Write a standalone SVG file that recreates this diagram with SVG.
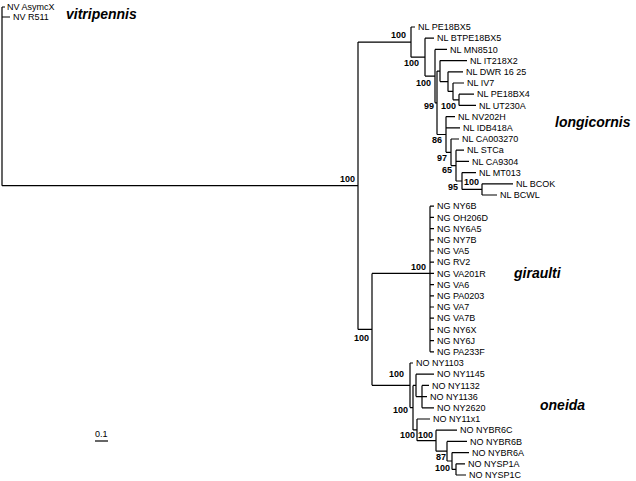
<svg xmlns="http://www.w3.org/2000/svg" width="636" height="481" viewBox="0 0 636 481">
<style>
.t{font-family:"Liberation Sans",Arial,sans-serif;font-size:9px;fill:#000}
.b{font-family:"Liberation Sans",Arial,sans-serif;font-size:9px;font-weight:bold;fill:#000;text-anchor:end}
.c{font-family:"Liberation Sans",Arial,sans-serif;font-size:14px;font-weight:bold;font-style:italic;fill:#000}
.e{fill:none;stroke:#000;stroke-width:1.2}
</style>
<rect width="636" height="481" fill="#fff"/>
<g id="connectors">
<path class="e" d="M2,7V185.7M2,7H5M2,17H10M2,185.7H358M358,42.1V329.4"/>
<path class="e" d="M358,42.1H411M411,27V57.2M411,27H415M411,57.2H425M425,38.2V76.1M425,38.2H434M425,76.1H435M435,49.4V102.8M435,49.4H447M435,102.8H437M437,71.1V134.5M437,71.1H440M440,60.6V81.6M440,60.6H467M440,81.6H448M448,71.8V91.4M448,71.8H463M448,91.4H453M453,83V99.8M453,83H464M453,99.8H459M459,94.2V105.4M459,94.2H474M459,105.4H476M437,134.5H446M446,116.6V152.3M446,116.6H455M446,127.8H460M446,152.3H451M451,139V165.6M451,139H459M451,165.6H456M456,150.2V181M456,150.2H464M456,161.4H469M456,181H462M462,172.6V189.4M462,172.6H476M462,189.4H482M482,183.8V195M482,183.8H513M482,195H497"/>
<path class="e" d="M358,329.4H372M372,273.4V385.3M372,273.4H430M430,206.2V351.8M430,206.2H434M430,217.4H434M430,228.6H434M430,239.8H434M430,251H434M430,262.2H434M430,273.4H434M430,284.6H434M430,295.8H434M430,307H434M430,318.2H434M430,329.4H434M430,340.6H434M430,351.8H434"/>
<path class="e" d="M372,385.3H410M410,363V407.6M410,363H413M410,407.6H413M413,385.4V429.9M413,385.4H416M416,374.2V396.6M416,374.2H434M416,396.6H422M422,385.4V407.8M422,385.4H429M422,396.6H427M422,407.8H434M413,429.9H417M417,419V440.7M417,419H430M417,440.7H436M436,430.2V451.2M436,430.2H457M436,451.2H447M447,441.4V461M447,441.4H467M447,461H452M452,452.6V469.4M452,452.6H469M452,469.4H456M456,463.8V475M456,463.8H465M456,475H466"/>
<path class="e" d="M95,441H108"/>
</g>
<g id="NV"><text class="t" x="7" y="10">NV AsymcX</text><text class="t" x="13" y="20">NV R511</text></g>
<g id="NL">
<text class="t" x="418" y="30.2">NL PE18BX5</text>
<text class="t" x="437" y="41.4">NL BTPE18BX5</text>
<text class="t" x="450" y="52.6">NL MN8510</text>
<text class="t" x="470" y="63.8">NL IT218X2</text>
<text class="t" x="466" y="75">NL DWR 16 25</text>
<text class="t" x="467" y="86.2">NL IV7</text>
<text class="t" x="477" y="97.4">NL PE18BX4</text>
<text class="t" x="479" y="108.6">NL UT230A</text>
<text class="t" x="458" y="119.8">NL NV202H</text>
<text class="t" x="463" y="131">NL IDB418A</text>
<text class="t" x="462" y="142.2">NL CA003270</text>
<text class="t" x="467" y="153.4">NL STCa</text>
<text class="t" x="472" y="164.6">NL CA9304</text>
<text class="t" x="479" y="175.8">NL MT013</text>
<text class="t" x="516" y="187">NL BCOK</text>
<text class="t" x="500" y="198.2">NL BCWL</text>
</g>
<g id="NG">
<text class="t" x="437" y="209.4">NG NY6B</text>
<text class="t" x="437" y="220.6">NG OH206D</text>
<text class="t" x="437" y="231.8">NG NY6A5</text>
<text class="t" x="437" y="243">NG NY7B</text>
<text class="t" x="437" y="254.2">NG VA5</text>
<text class="t" x="437" y="265.4">NG RV2</text>
<text class="t" x="437" y="276.6">NG VA201R</text>
<text class="t" x="437" y="287.8">NG VA6</text>
<text class="t" x="437" y="299">NG PA0203</text>
<text class="t" x="437" y="310.2">NG VA7</text>
<text class="t" x="437" y="321.4">NG VA7B</text>
<text class="t" x="437" y="332.6">NG NY6X</text>
<text class="t" x="437" y="343.8">NG NY6J</text>
<text class="t" x="437" y="355">NG PA233F</text>
</g>
<g id="NO">
<text class="t" x="416" y="366.2">NO NY1103</text>
<text class="t" x="437" y="377.4">NO NY1145</text>
<text class="t" x="432" y="388.6">NO NY1132</text>
<text class="t" x="430" y="399.8">NO NY1136</text>
<text class="t" x="437" y="411">NO NY2620</text>
<text class="t" x="433" y="422.2">NO NY11x1</text>
<text class="t" x="460" y="433.4">NO NYBR6C</text>
<text class="t" x="470" y="444.6">NO NYBR6B</text>
<text class="t" x="472" y="455.8">NO NYBR6A</text>
<text class="t" x="468" y="467">NO NYSP1A</text>
<text class="t" x="469" y="478.2">NO NYSP1C</text>
</g>
<g id="support">
<text class="b" x="355" y="182">100</text>
<text class="b" x="406" y="38">100</text>
<text class="b" x="419" y="66">100</text>
<text class="b" x="431" y="86">100</text>
<text class="b" x="434" y="109">99</text>
<text class="b" x="456" y="109">100</text>
<text class="b" x="442" y="143">86</text>
<text class="b" x="447" y="161">97</text>
<text class="b" x="452" y="173">65</text>
<text class="b" x="458" y="190">95</text>
<text class="b" x="479" y="185">100</text>
<text class="b" x="426" y="270">100</text>
<text class="b" x="369" y="341">100</text>
<text class="b" x="404" y="377">100</text>
<text class="b" x="408" y="413">100</text>
<text class="b" x="415" y="438">100</text>
<text class="b" x="433" y="438">100</text>
<text class="b" x="446" y="460">87</text>
<text class="b" x="450" y="471">100</text>
</g>
<g id="clades">
<text class="c" x="66" y="19">vitripennis</text>
<text class="c" x="555" y="127">longicornis</text>
<text class="c" x="514" y="278">giraulti</text>
<text class="c" x="540" y="410">oneida</text>
</g>
<g id="scale"><text class="t" x="95" y="437">0.1</text></g>
</svg>
